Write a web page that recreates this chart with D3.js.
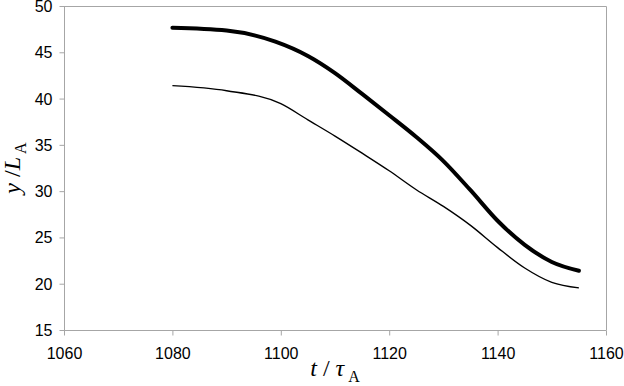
<!DOCTYPE html>
<html>
<head>
<meta charset="utf-8">
<script src="https://cdn.jsdelivr.net/npm/d3@7"></script>
<style>
  body { margin: 0; background: #fff; }
  .tick text { font-family: "Liberation Sans", Arial, sans-serif; font-size: 16px; fill: #000; }
  .lbl { font-family: "Liberation Serif", "Times New Roman", serif; font-size: 24px; fill: #000; }
</style>
</head>
<body>
<div id="chart"></div>
<script>
'use strict';

// values
const TIMES = [1080, 1090, 1099, 1105, 1110, 1115, 1120, 1125, 1130, 1135, 1140, 1145, 1150, 1155]
const THICK = [47.65, 47.35, 46.15, 44.6, 42.75, 40.5, 38.2, 35.85, 33.25, 30.1, 26.8, 24.2, 22.35, 21.4]
const THIN_T = [1080, 1090, 1100, 1105, 1110, 1115, 1120, 1125, 1130, 1135, 1140, 1145, 1150, 1155]
const THIN = [41.4, 40.85, 39.45, 37.7, 35.95, 34.1, 32.2, 30.15, 28.35, 26.3, 23.9, 21.7, 20.15, 19.55]
const X_TICKS = [1060, 1080, 1100, 1120, 1140, 1160]
const Y_TICKS = [15, 20, 25, 30, 35, 40, 45, 50]

const W = 624, H = 386
const m = [6, 18, 56, 64] // top right bottom left
const w = W - m[1] - m[3]
const h = H - m[0] - m[2]

const x = d3.scaleLinear().domain([1060, 1160]).range([0, w])
const y = d3.scaleLinear().domain([15, 50]).range([h, 0])

const svg = d3.select('#chart').append('svg')
  .attr('width', W).attr('height', H)
const g = svg.append('g')
  .attr('transform', 'translate(' + m[3] + ',' + m[0] + ')')

// frame: top and right edges
g.append('path')
  .attr('d', 'M0.5,0.5H' + (w + 0.5) + 'V' + h)
  .attr('fill', 'none').attr('stroke', '#a6a6a6').attr('stroke-width', 1)

const xAxis = d3.axisBottom(x).tickValues(X_TICKS).tickSize(5).tickPadding(12).tickFormat(d3.format('d'))
g.append('g')
  .attr('transform', 'translate(0,' + (h + 0.5) + ')')
  .call(xAxis)
  .call(s => s.selectAll('line,path').attr('stroke', '#a6a6a6'))
  .call(s => s.select('.domain').attr('d', 'M0,0H' + (w + 0.5)))

const yAxis = d3.axisLeft(y).tickValues(Y_TICKS).tickSize(5).tickPadding(7)
g.append('g')
  .attr('transform', 'translate(0.5,0)')
  .call(yAxis)
  .call(s => s.selectAll('line,path').attr('stroke', '#a6a6a6'))
  .call(s => s.select('.domain').attr('d', 'M0,0V' + (h + 1)))
  .call(s => s.selectAll('.tick text').attr('dy', '0.34em'))

const line = d3.line()
  .curve(d3.curveMonotoneX)
  .x(d => x(d[0]))
  .y(d => y(d[1]))

g.append('path')
  .datum(THIN_T.map((t, i) => [t, THIN[i]]))
  .attr('d', line)
  .attr('fill', 'none').attr('stroke', '#000').attr('stroke-width', 1.4)

g.append('path')
  .datum(TIMES.map((t, i) => [t, THICK[i]]))
  .attr('d', line)
  .attr('fill', 'none').attr('stroke', '#000').attr('stroke-width', 4)
  .attr('stroke-linecap', 'round').attr('stroke-linejoin', 'round')

// axis titles
const xl = svg.append('text').attr('class', 'lbl')
  .attr('x', m[3] + w / 2).attr('y', 376).attr('text-anchor', 'middle')
xl.append('tspan').attr('font-style', 'italic').text('t')
xl.append('tspan').text(' / ')
xl.append('tspan').attr('font-style', 'italic').text('τ')
xl.append('tspan').attr('font-size', '16px').attr('dy', 6).text(' A')

const yl = svg.append('text').attr('class', 'lbl')
  .attr('transform', 'translate(20,' + (m[0] + h / 2) + ') rotate(-90)')
  .attr('text-anchor', 'middle')
yl.append('tspan').attr('font-style', 'italic').text('y')
yl.append('tspan').text(' /')
yl.append('tspan').attr('font-style', 'italic').text('L')
yl.append('tspan').attr('font-size', '16px').attr('dy', 6).text(' A')
</script>
</body>
</html>
